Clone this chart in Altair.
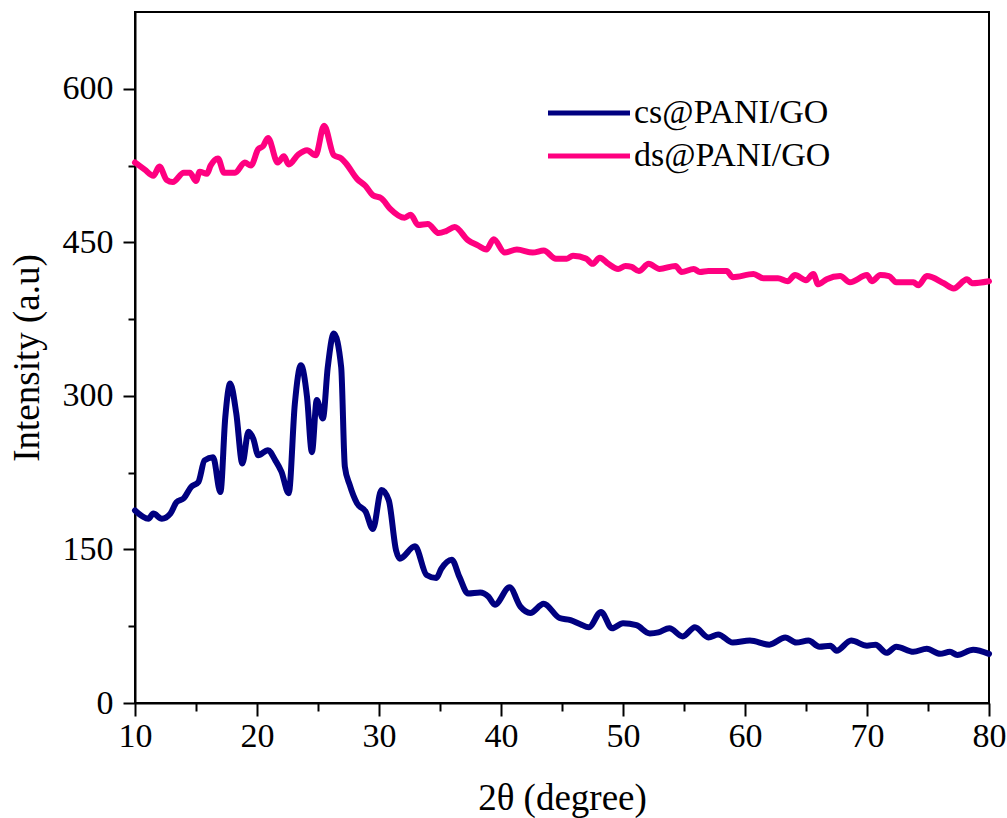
import altair as alt
import pandas as pd

series_names = ["cs@PANI/GO", "ds@PANI/GO"]
series_colors = ["#000080", "#FF0080"]

cs_x = [10.0, 11.1, 11.5, 12.2, 12.9, 13.4, 14.0, 14.6, 15.2, 15.7, 16.4, 17.0, 17.4, 17.8, 18.3,
        18.8, 19.3, 19.7, 20.1, 20.9, 21.5, 22.0, 22.6, 23.1, 23.6, 24.1, 24.5, 24.9, 25.4, 25.8,
        26.3, 26.9, 27.2, 27.6, 28.2, 28.9, 29.5, 30.2, 30.8, 31.4, 31.7, 32.95, 33.9, 34.7, 35.1,
        35.96, 36.6, 37.3, 38.3, 38.96, 39.5, 40.7, 41.6, 42.4, 43.5, 44.8, 45.7, 46.5, 47.2, 48.2,
        49.1, 50.0, 51.1, 52.2, 52.9, 53.8, 54.9, 55.9, 57.0, 57.8, 59.0, 60.4, 62.0, 63.3, 64.2,
        65.2, 66.1, 67.0, 67.5, 68.7, 70.0, 70.7, 71.6, 72.4, 73.8, 74.9, 76.0, 76.8, 77.4, 78.7, 80.0]
cs_y = [188, 180, 185, 180, 185, 196, 200, 211, 216, 237, 240, 206, 279, 312, 283,
        234, 265, 258, 242, 247, 237, 226, 205, 292, 330, 299, 245, 296, 278, 328,
        361, 328, 231, 213, 195, 187, 170, 208, 198, 149, 141, 153, 125, 122, 131,
        140, 123, 107, 108, 104, 96, 113, 94, 88, 97, 83, 81, 77, 74, 89,
        73, 78, 76, 68, 69, 73, 65, 74, 64, 67, 59, 61, 57, 64, 59,
        61, 55, 56, 51, 61, 56, 57, 49, 55, 50, 53, 48, 50, 47, 52, 48]

ds_x = [10.0, 10.8, 11.5, 12.0, 12.6, 13.1, 14.0, 14.5, 15.0, 15.3, 15.9, 16.2, 16.8, 17.3, 18.2,
        19.0, 19.5, 20.1, 20.5, 20.9, 21.7, 22.2, 22.6, 23.4, 24.1, 24.8, 25.5, 26.3, 26.9, 27.3,
        28.2, 28.9, 29.5, 30.2, 30.9, 32.1, 32.6, 33.2, 34.0, 34.9, 35.5, 36.2, 37.3, 38.1, 38.8,
        39.4, 40.3, 41.3, 42.6, 43.5, 44.5, 45.4, 45.9, 47.0, 47.5, 48.1, 48.8, 49.6, 50.2, 50.7,
        51.3, 52.1, 53.0, 54.3, 54.8, 55.8, 56.3, 57.0, 58.5, 59.0, 60.7, 61.5, 62.7, 63.5, 64.1,
        65.0, 65.6, 66.0, 66.7, 67.8, 68.6, 70.0, 70.4, 71.1, 71.8, 72.4, 73.8, 74.2, 74.9, 76.3,
        77.1, 78.2, 78.6, 80.0]
ds_y = [528, 521, 515, 524, 511, 509, 518, 518, 510, 519, 517, 525, 532, 518, 518,
        528, 525, 541, 544, 552, 528, 534, 526, 536, 540, 535, 564, 535, 532, 527,
        512, 505, 496, 493, 483, 474, 477, 467, 468, 459, 461, 465, 452, 447, 443,
        453, 440, 443, 440, 442, 434, 434, 437, 434, 429, 435, 429, 424, 427, 426,
        422, 429, 424, 427, 421, 424, 421, 422, 422, 416, 419, 415, 415, 412, 418,
        413, 419, 409, 414, 417, 411, 418, 412, 418, 417, 411, 411, 408, 417, 410,
        405, 414, 410, 412]

x_ticks = [10, 15, 20, 25, 30, 35, 40, 45, 50, 55, 60, 65, 70, 75, 80]
y_ticks = [0, 75, 150, 225, 300, 375, 450, 525, 600]

df = pd.concat([
    pd.DataFrame({"theta": cs_x, "intensity": cs_y, "sample": series_names[0], "order": range(len(cs_x))}),
    pd.DataFrame({"theta": ds_x, "intensity": ds_y, "sample": series_names[1], "order": range(len(ds_x))}),
])

FONT = "Liberation Serif"

chart = alt.Chart(df).mark_line(strokeWidth=6, interpolate="monotone", strokeJoin="round", strokeCap="round").encode(
    x=alt.X("theta:Q",
            scale=alt.Scale(domain=[10, 80], nice=False, zero=False),
            axis=alt.Axis(title="2θ (degree)", values=x_ticks, labelFlush=False,
                          labelExpr="datum.value % 10 === 0 ? datum.label : ''",
                          tickSize={"condition": {"test": "datum.value % 10 === 0", "value": 13}, "value": 8},
                          labelPadding=3, titlePadding=27)),
    y=alt.Y("intensity:Q",
            scale=alt.Scale(domain=[0, 675], nice=False, zero=True),
            axis=alt.Axis(title="Intensity (a.u)", values=y_ticks, labelFlush=False,
                          labelExpr="datum.value % 150 === 0 ? datum.label : ''",
                          tickSize={"condition": {"test": "datum.value % 150 === 0", "value": 12}, "value": 7},
                          labelPadding=10, titlePadding=16)),
    color=alt.Color("sample:N",
                    scale=alt.Scale(domain=series_names, range=series_colors),
                    legend=alt.Legend(title=None, orient="none", legendX=435, legendY=82,
                                      symbolType="M-2.5,0L2.5,0", symbolSize=1076, symbolStrokeWidth=5,
                                      labelFont=FONT, labelFontSize=34, labelColor="black",
                                      rowPadding=7, labelOffset=26, labelLimit=400)),
    order="order:Q",
    detail="sample:N",
).properties(
    width=854, height=691,
    padding={"left": 135, "top": 12, "right": 18, "bottom": 115},
    autosize=alt.AutoSizeParams(type="none"),
).configure_axis(
    domainColor="black", domainWidth=2, tickColor="black", tickWidth=2,
    labelFont=FONT, labelFontSize=34, labelColor="black",
    titleFont=FONT, titleFontSize=37, titleFontWeight="normal", titleColor="black",
    grid=False,
).configure_view(stroke="black", strokeWidth=2)

chart.save("out.html", embed_options={"renderer": "svg", "actions": False})
